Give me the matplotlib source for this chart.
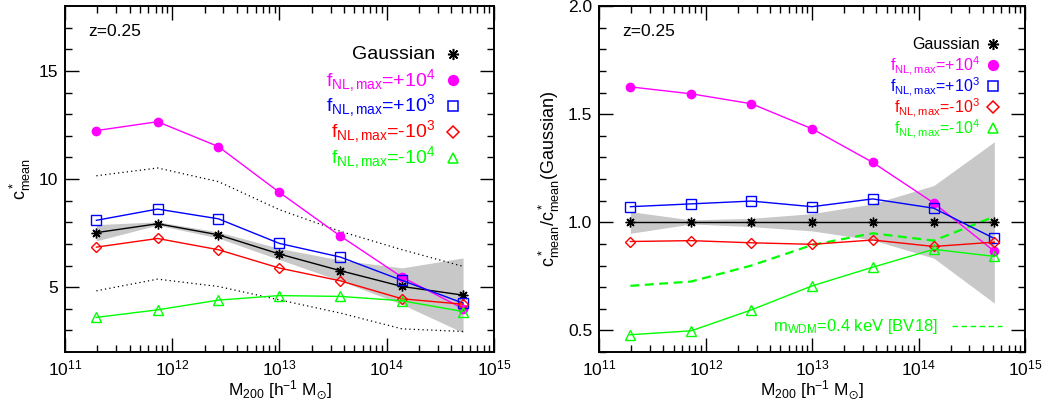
import matplotlib
matplotlib.use("Agg")
from matplotlib import pyplot as plt
import numpy as np

plt.rcParams['font.family'] = ['Liberation Sans', 'DejaVu Sans']
plt.rcParams['mathtext.fontset'] = 'custom'
plt.rcParams['mathtext.rm'] = 'Liberation Sans'
plt.rcParams['mathtext.it'] = 'Liberation Sans:italic'
plt.rcParams['mathtext.bf'] = 'Liberation Sans:bold'
plt.rcParams['mathtext.fallback'] = 'stixsans'

# halo mass bins [h^-1 Msun]
mass = [1.96e11, 7.3e11, 2.69e12, 1.0e13, 3.7e13, 1.39e14, 5.15e14]

# left panel: c*_mean
c_gauss = [7.52, 7.93, 7.42, 6.53, 5.76, 5.03, 4.63]
c_p1e4 = [12.24, 12.65, 11.50, 9.38, 7.36, 5.46, 4.01]
c_p1e3 = [8.09, 8.61, 8.16, 7.02, 6.39, 5.31, 4.26]
c_m1e3 = [6.85, 7.25, 6.73, 5.88, 5.29, 4.46, 4.21]
c_m1e4 = [3.60, 3.95, 4.40, 4.61, 4.57, 4.37, 3.87]
c_band_lo = [7.14, 7.87, 7.27, 6.27, 5.29, 4.20, 2.90]
c_band_hi = [7.89, 8.02, 7.55, 6.79, 6.25, 5.89, 6.35]
c_scatter_hi = [10.15, 10.51, 9.88, 8.58, 7.58, 6.73, 5.96]
c_scatter_lo = [4.83, 5.37, 5.03, 4.41, 3.80, 3.07, 2.95]

# right panel: ratio to Gaussian
r_gauss = [1.0, 1.0, 1.0, 1.0, 1.0, 1.0, 1.0]
r_p1e4 = [1.626, 1.594, 1.548, 1.432, 1.277, 1.089, 0.866]
r_p1e3 = [1.072, 1.085, 1.098, 1.072, 1.108, 1.065, 0.925]
r_m1e3 = [0.911, 0.915, 0.905, 0.898, 0.918, 0.888, 0.908]
r_m1e4 = [0.480, 0.498, 0.595, 0.706, 0.792, 0.875, 0.842]
r_band_lo = [0.949, 0.992, 0.980, 0.960, 0.918, 0.834, 0.626]
r_band_hi = [1.049, 1.011, 1.018, 1.040, 1.085, 1.170, 1.372]
r_wdm = [0.706, 0.726, 0.800, 0.895, 0.949, 0.915, 1.026]

labels = ['Gaussian',
          r'f$_{\rm NL,max}$=+10$^4$',
          r'f$_{\rm NL,max}$=+10$^3$',
          r'f$_{\rm NL,max}$=-10$^3$',
          r'f$_{\rm NL,max}$=-10$^4$']
colors = ['black', '#ff00ff', '#0000ff', '#ff0000', '#00ff00']
markers = [(8, 2, 0), 'o', 's', 'D', '^']
msizes = [7, 6, 6.5, 5, 6.5]
filled = [True, True, False, False, False]

fig = plt.figure(figsize=(10.47, 4.04), dpi=100)
ax1 = fig.add_axes([0.0621, 0.1287, 0.4097, 0.8564])
ax2 = fig.add_axes([0.5724, 0.1287, 0.4066, 0.8564])

left_series = [c_gauss, c_p1e4, c_p1e3, c_m1e3, c_m1e4]
right_series = [r_gauss, r_p1e4, r_p1e3, r_m1e3, r_m1e4]

ax1.fill_between(mass, c_band_lo, c_band_hi, color='#c8c8c8', lw=0, zorder=1)
ax1.plot(mass, c_scatter_hi, color='black', ls=(0, (1, 2.5)), lw=0.9, zorder=2)
ax1.plot(mass, c_scatter_lo, color='black', ls=(0, (1, 2.5)), lw=0.9, zorder=2)

ax2.fill_between(mass, r_band_lo, r_band_hi, color='#c8c8c8', lw=0, zorder=1)
ax2.plot(mass, r_wdm, color='#00ff00', ls=(0, (4, 2.5)), lw=1.6, zorder=3)

for ax, series in [(ax1, left_series), (ax2, right_series)]:
    for y, c, m, ms, f in zip(series, colors, markers, msizes, filled):
        ax.plot(mass, y, color=c, lw=1.0, marker=m, ms=ms,
                mfc=c if f else 'none', mec=c, mew=1.0, zorder=4)

for ax in [ax1, ax2]:
    ax.set_xscale('log')
    ax.set_xlim(1e11, 1e15)
    ax.set_xticks([1e11, 1e12, 1e13, 1e14, 1e15])
    ax.tick_params(which='both', direction='in', top=True, right=True,
                   labelsize=12.5, width=1.0, pad=5)
    ax.tick_params(which='major', length=10)
    ax.tick_params(which='minor', length=5)
    for sp in ax.spines.values():
        sp.set_linewidth(1.4)
    ax.set_xlabel(r'M$_{200}$ [h$^{-1}$ M$_{\odot}$]', fontsize=12.5, labelpad=0)

ax1.set_ylim(2, 18)
ax1.set_yticks([5, 10, 15])
ax1.set_yticks(np.arange(3, 18), minor=True)
ax1.set_ylabel(r'c$^*_{\rm mean}$', fontsize=13, labelpad=4)

ax2.set_ylim(0.4, 2.0)
ax2.set_yticks([0.5, 1.0, 1.5, 2.0])
ax2.set_yticks(np.arange(0.4, 2.01, 0.1), minor=True)
ax2.set_ylabel(r'c$^*_{\rm mean}$/c$^*_{\rm mean}$(Gaussian)', fontsize=13, labelpad=4)

for ax in [ax1, ax2]:
    ax.text(0.055, 0.925, 'z=0.25', transform=ax.transAxes, fontsize=12.5,
            ha='left', va='center')

# legend built by hand: right-aligned text followed by marker
def legend(ax, x_text, x_mark, y0, dy, fs):
    for i, (lab, c, m, ms, f) in enumerate(zip(labels, colors, markers, msizes, filled)):
        y = y0 - i * dy
        ax.text(x_text, y, lab, transform=ax.transAxes, color=c, fontsize=fs,
                ha='right', va='center')
        ax.plot([x_mark], [y], transform=ax.transAxes, marker=m, ms=ms + 1,
                color=c, mfc=c if f else 'none', mec=c, mew=1.1, ls='none')

legend(ax1, 0.862, 0.905, 0.86, 0.0745, 14)
legend(ax2, 0.895, 0.925, 0.89, 0.0610, 11.5)

ax2.text(0.795, 0.075, r'm$_{\rm WDM}$=0.4 keV [BV18]', transform=ax2.transAxes,
         color='#00ff00', fontsize=12, ha='right', va='center')
ax2.plot([0.828, 0.945], [0.075, 0.075], transform=ax2.transAxes,
         color='#00ff00', ls=(0, (4, 2.5)), lw=1.0)

fig.savefig('out.png', dpi=100)
